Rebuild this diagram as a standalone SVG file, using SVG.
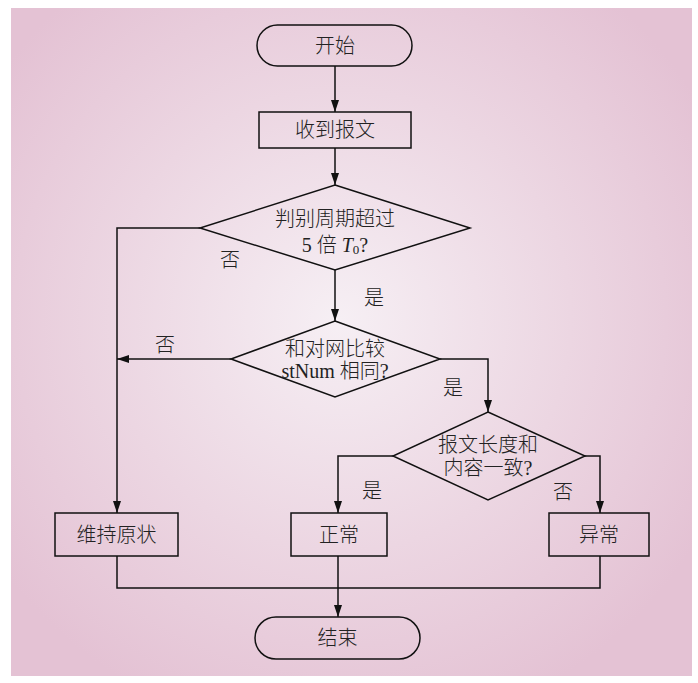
<svg xmlns="http://www.w3.org/2000/svg" width="698" height="683" viewBox="0 0 698 683">
  <defs>
    <radialGradient id="bg" cx="340" cy="320" r="420" gradientUnits="userSpaceOnUse">
      <stop offset="0" stop-color="#f6eff4"/>
      <stop offset="0.55" stop-color="#ecd6e2"/>
      <stop offset="1" stop-color="#e4c2d4"/>
    </radialGradient>
    <marker id="arrow" viewBox="0 0 12 8" refX="12" refY="4" markerWidth="12" markerHeight="8" markerUnits="userSpaceOnUse" orient="auto">
      <path d="M0,0 L12,4 L0,8 Z" fill="#111"/>
    </marker>
    <style>
      .shape { fill: none; stroke: #111; stroke-width: 1.5; }
      .line { fill: none; stroke: #111; stroke-width: 1.5; }
      .arr { marker-end: url(#arrow); }
      text { font-family: "Liberation Serif", "Noto Sans CJK SC", serif; font-size: 20px; font-weight: 300; fill: #222; text-anchor: middle; dominant-baseline: central; }
    </style>
  </defs>

  <rect x="0" y="0" width="698" height="683" fill="#ffffff"/>
  <rect x="11" y="8" width="681" height="668" fill="url(#bg)"/>

  <g id="connectors">
    <line class="line arr" x1="335" y1="66" x2="335" y2="112"/>
    <line class="line arr" x1="335" y1="148" x2="335" y2="185"/>
    <polyline class="line arr" points="200,228 117,228 117,513"/>
    <line class="line arr" x1="335" y1="270" x2="335" y2="321"/>
    <line class="line arr" x1="231" y1="359" x2="117" y2="359"/>
    <polyline class="line arr" points="440,359 488,359 488,412"/>
    <polyline class="line arr" points="393,456 338,456 338,513"/>
    <polyline class="line arr" points="585,456 600,456 600,513"/>
    <polyline class="line" points="117,556 117,588 600,588 600,556"/>
    <line class="line arr" x1="338" y1="556" x2="338" y2="617"/>
    <text x="230" y="260">否</text>
    <text x="374" y="298">是</text>
    <text x="165" y="345">否</text>
    <text x="453" y="388">是</text>
    <text x="372" y="491">是</text>
    <text x="563" y="492">否</text>
  </g>

  <g id="start">
    <rect class="shape" x="257" y="25" width="155" height="41" rx="20.5"/>
    <text x="335" y="46">开始</text>
  </g>

  <g id="receive">
    <rect class="shape" x="259" y="112" width="152" height="36"/>
    <text x="335" y="130">收到报文</text>
  </g>

  <g id="check-period">
    <polygon class="shape" points="335,185 470,228 335,270 200,228"/>
    <text x="335" y="219">判别周期超过</text>
    <text x="335" y="245">5 倍 <tspan font-style="italic">T</tspan><tspan font-size="13" dy="4">0</tspan><tspan dy="-4">?</tspan></text>
  </g>

  <g id="check-stnum">
    <polygon class="shape" points="335,321 440,359 335,397 231,359"/>
    <text x="335" y="349">和对网比较</text>
    <text x="335" y="371">stNum 相同?</text>
  </g>

  <g id="check-content">
    <polygon class="shape" points="488,412 585,456 488,500 393,456"/>
    <text x="488" y="445">报文长度和</text>
    <text x="488" y="468">内容一致?</text>
  </g>

  <g id="keep">
    <rect class="shape" x="55" y="513" width="123" height="43"/>
    <text x="116.5" y="534.5">维持原状</text>
  </g>

  <g id="normal">
    <rect class="shape" x="291" y="513" width="96" height="43"/>
    <text x="339" y="534.5">正常</text>
  </g>

  <g id="abnormal">
    <rect class="shape" x="549" y="513" width="100" height="43"/>
    <text x="599" y="534.5">异常</text>
  </g>

  <g id="end">
    <rect class="shape" x="255" y="617" width="165" height="42" rx="21"/>
    <text x="337.5" y="638">结束</text>
  </g>
</svg>
